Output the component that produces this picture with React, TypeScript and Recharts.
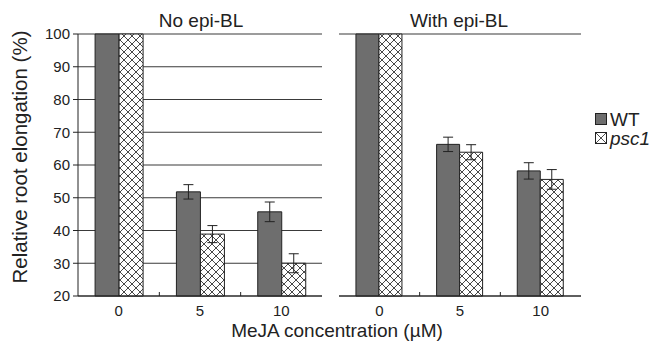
import { Bar, BarChart, CartesianGrid, ErrorBar, XAxis, YAxis } from "recharts";

const doses = ["0", "5", "10"];

const wtNoBl = [100, 51.8, 45.7];
const wtNoBlErr = [0, 2.2, 3.0];
const psc1NoBl = [100, 38.9, 30.0];
const psc1NoBlErr = [0, 2.6, 2.9];

const wtWithBl = [100, 66.3, 58.2];
const wtWithBlErr = [0, 2.2, 2.5];
const psc1WithBl = [100, 63.9, 55.6];
const psc1WithBlErr = [0, 2.3, 3.0];

const yTicks = [20, 30, 40, 50, 60, 70, 80, 90, 100];

const FONT = '"Liberation Sans", Arial, sans-serif';
const INK = "#222";
const WT_FILL = "#6e6e6e";

type DoseTickProps = {
  x?: number;
  y?: number;
  width?: number;
  index?: number;
  visibleTicksCount?: number;
  payload?: { value: string };
};

function DoseTick({ x = 0, y = 0, width = 243, index = 0, visibleTicksCount = 3, payload }: DoseTickProps) {
  const band = width / visibleTicksCount;
  const edge = x + band / 2;
  return (
    <g>
      <text x={x} y={y + 20} textAnchor="middle" fontSize={15} fill={INK} fontFamily={FONT}>
        {payload?.value}
      </text>
      {index < visibleTicksCount - 1 && (
        <line x1={edge} y1={y} x2={edge} y2={y - 4} stroke={INK} />
      )}
    </g>
  );
}

type PanelProps = {
  id: string;
  width: number;
  left: number;
  right: number;
  showLabels: boolean;
  wt: number[];
  wtErr: number[];
  psc: number[];
  pscErr: number[];
};

function Panel({ id, width, left, right, showLabels, wt, wtErr, psc, pscErr }: PanelProps) {
  const data = doses.map((dose, i) => ({
    dose,
    wt: wt[i],
    wtErr: wtErr[i],
    psc: psc[i],
    pscErr: pscErr[i],
  }));

  return (
    <BarChart
      width={width}
      height={349}
      data={data}
      margin={{ top: 34, right, bottom: 23, left }}
      barGap={0}
      barCategoryGap="21%"
    >
      <defs>
        <pattern id={id} width={8} height={8} patternUnits="userSpaceOnUse">
          <rect width={8} height={8} fill="#fff" />
          <path d="M0,0 L8,8 M8,0 L0,8" stroke="#333" strokeWidth={0.9} />
        </pattern>
      </defs>

      <CartesianGrid vertical={false} stroke="#3a3a3a" strokeWidth={1.2} />

      <XAxis
        dataKey="dose"
        interval={0}
        height={30}
        tickSize={0}
        tickMargin={0}
        tickLine={false}
        axisLine={{ stroke: INK }}
        tick={<DoseTick />}
      />
      <XAxis
        xAxisId="top"
        orientation="top"
        dataKey="dose"
        height={0}
        tick={false}
        tickLine={false}
        axisLine={{ stroke: INK }}
      />

      <YAxis
        domain={[20, 100]}
        ticks={yTicks}
        interval={0}
        width={showLabels ? 45 : 0}
        tick={showLabels ? { fontSize: 15, fill: INK, fontFamily: FONT } : false}
        tickSize={showLabels ? 5 : 0}
        tickMargin={3}
        tickLine={showLabels ? { stroke: INK } : false}
        axisLine={{ stroke: INK }}
      />
      <YAxis
        yAxisId="right"
        orientation="right"
        domain={[20, 100]}
        width={0}
        tick={false}
        tickLine={false}
        axisLine={{ stroke: INK }}
      />

      <Bar dataKey="wt" fill={WT_FILL} stroke={INK} strokeWidth={1} isAnimationActive={false}>
        <ErrorBar dataKey="wtErr" width={5} stroke={INK} strokeWidth={1} isAnimationActive={false} />
      </Bar>
      <Bar dataKey="psc" fill={`url(#${id})`} stroke={INK} strokeWidth={1} isAnimationActive={false}>
        <ErrorBar dataKey="pscErr" width={5} stroke={INK} strokeWidth={1} isAnimationActive={false} />
      </Bar>
    </BarChart>
  );
}

export default function App() {
  return (
    <div
      style={{
        position: "absolute",
        left: 0,
        top: 0,
        width: 650,
        height: 349,
        background: "#fff",
        fontFamily: FONT,
      }}
    >
      <div style={{ position: "absolute", left: 0, top: 0 }}>
        <Panel
          id="hatchNo"
          width={330}
          left={33}
          right={8}
          showLabels
          wt={wtNoBl}
          wtErr={wtNoBlErr}
          psc={psc1NoBl}
          pscErr={psc1NoBlErr}
        />
      </div>
      <div style={{ position: "absolute", left: 330, top: 0 }}>
        <Panel
          id="hatchWith"
          width={320}
          left={9}
          right={69}
          showLabels={false}
          wt={wtWithBl}
          wtErr={wtWithBlErr}
          psc={psc1WithBl}
          pscErr={psc1WithBlErr}
        />
      </div>

      <svg
        width={650}
        height={349}
        style={{ position: "absolute", left: 0, top: 0, pointerEvents: "none" }}
        fontFamily={FONT}
        fill={INK}
      >
        <text x={201} y={27} fontSize={19} textAnchor="middle">
          No epi-BL
        </text>
        <text x={459} y={27} fontSize={19} textAnchor="middle">
          With epi-BL
        </text>
        <text x={337} y={337} fontSize={19} textAnchor="middle">
          MeJA concentration (µM)
        </text>
        <text x={27} y={157} fontSize={20.5} textAnchor="middle" transform="rotate(-90 27 157)">
          Relative root elongation (%)
        </text>

        <rect x={595.5} y={113.5} width={11} height={11} fill={WT_FILL} stroke={INK} />
        <text x={610} y={126} fontSize={19}>
          WT
        </text>

        <rect x={595.5} y={132.5} width={11} height={11} fill="#fff" stroke={INK} />
        <path d="M595.5,132.5 L606.5,143.5 M606.5,132.5 L595.5,143.5" stroke={INK} strokeWidth={0.8} />
        <text x={610} y={145} fontSize={19} fontStyle="italic">
          psc1
        </text>
      </svg>
    </div>
  );
}
